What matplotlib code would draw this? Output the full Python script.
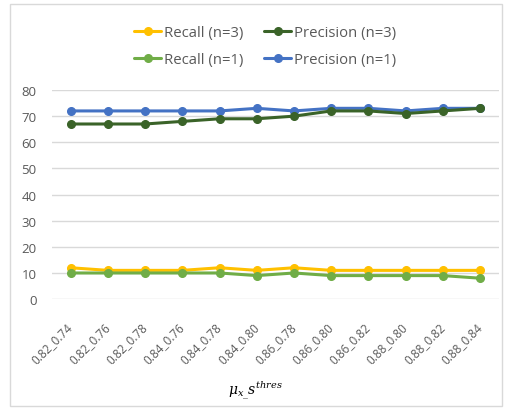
import matplotlib.pyplot as plt
from matplotlib.patches import Rectangle
from matplotlib.transforms import ScaledTranslation

thresholds = ['0.82_0.74', '0.82_0.76', '0.82_0.78', '0.84_0.76', '0.84_0.78', '0.84_0.80',
              '0.86_0.78', '0.86_0.80', '0.86_0.82', '0.88_0.80', '0.88_0.82', '0.88_0.84']
recall_n3 = [12, 11, 11, 11, 12, 11, 12, 11, 11, 11, 11, 11]
precision_n3 = [67, 67, 67, 68, 69, 69, 70, 72, 72, 71, 72, 73]
recall_n1 = [10, 10, 10, 10, 10, 9, 10, 9, 9, 9, 9, 8]
precision_n1 = [72, 72, 72, 72, 72, 73, 72, 73, 73, 72, 73, 73]

plt.rcParams['font.family'] = ['Open Sans', 'DejaVu Sans']
plt.rcParams['mathtext.fontset'] = 'dejavuserif'

fig = plt.figure(figsize=(5.1, 4.1), dpi=100)
ax = fig.add_axes([0.102, 0.268, 0.876, 0.51])

# outer chart frame
fig.patches.append(Rectangle((10 / 510, 3 / 410), 492 / 510, 402 / 410, transform=fig.transFigure,
                             fill=False, edgecolor='#d9d9d9', linewidth=1))

x = range(len(thresholds))
series = [
    (recall_n3, '#FFC000', 'Recall (n=3)'),
    (precision_n3, '#3A6328', 'Precision (n=3)'),
    (recall_n1, '#70AD47', 'Recall (n=1)'),
    (precision_n1, '#4472C4', 'Precision (n=1)'),
]
# draw order: precision n=1 under n=3, recall n=3 under n=1
for vals, col, lab in [series[3], series[1], series[0], series[2]]:
    ax.plot(x, vals, color=col, linewidth=2.2, marker='o', markersize=5.5, label=lab,
            solid_capstyle='round')

ax.set_ylim(0, 80)
ax.set_yticks(range(0, 81, 10))
ax.set_xlim(-0.5, len(thresholds) - 0.5)
ax.set_xticks(list(x))
ax.set_xticklabels(thresholds, rotation=45, ha='right', va='center', rotation_mode='anchor')
shift = ScaledTranslation(4 / 100, 0, fig.dpi_scale_trans)
for lbl in ax.get_xticklabels():
    lbl.set_transform(lbl.get_transform() + shift)
ax.tick_params(axis='x', length=0, labelsize=8.5, colors='#595959', pad=18)
ax.tick_params(axis='y', length=0, labelsize=9.5, colors='#595959', pad=11)
ax.grid(axis='y', color='#d9d9d9', linewidth=1)
ax.set_axisbelow(True)
for s in ax.spines.values():
    s.set_visible(False)

fig.text(0.5, 1 - 391 / 410, r'$\mu_{x\_}s^{thres}$', fontsize=10, ha='center', va='center')

handles, labels = ax.get_legend_handles_labels()
order = ['Recall (n=3)', 'Recall (n=1)', 'Precision (n=3)', 'Precision (n=1)']
h = [handles[labels.index(o)] for o in order]
fig.legend(h, order, ncol=2, loc='center', bbox_to_anchor=(0.52, 0.885), frameon=False,
           fontsize=10.7, labelcolor='#595959', handlelength=1.8, handletextpad=0.2,
           columnspacing=1.4, labelspacing=0.85)

fig.savefig('out.png', dpi=100)
